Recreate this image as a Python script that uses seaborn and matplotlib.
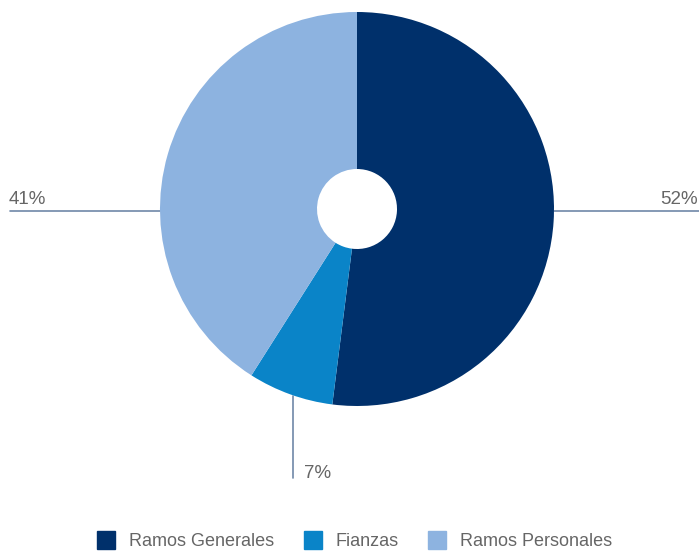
import matplotlib
matplotlib.use("Agg")
import matplotlib.pyplot as plt
from matplotlib.lines import Line2D
import seaborn as sns

# data
categories = ["Ramos Generales", "Fianzas", "Ramos Personales"]
shares = [52, 7, 41]
labels = ["52%", "7%", "41%"]
colors = ["#00306b", "#0a84c8", "#8db3e0"]

sns.set_theme(style="white")
plt.rcParams['font.family'] = ['Liberation Sans', 'DejaVu Sans']

W, H = 699, 551
fig = plt.figure(figsize=(W / 100, H / 100), dpi=100)
ax = fig.add_axes([0, 0, 1, 1])

cx, cy = 357, H - 209
r, hole = 197, 40
pal = sns.color_palette(colors)
ax.pie(shares, colors=pal, startangle=90, counterclock=False,
       center=(cx, cy), radius=r, frame=True,
       wedgeprops=dict(width=r - hole, linewidth=0))
ax.set_xlim(0, W)
ax.set_ylim(0, H)
ax.set_aspect("equal")
ax.axis("off")

line_c = "#6f88a8"
txt_c = "#666666"
fs = 13.5
# leader lines and labels
ax.plot([cx + r, W], [H - 211, H - 211], color=line_c, lw=1.2, zorder=0)
ax.text(W - 1, H - 199, labels[0], ha="right", va="center", color=txt_c, fontsize=fs)
ax.plot([293, 293], [H - 396, H - 478], color=line_c, lw=1.2, zorder=0)
ax.text(304, H - 473, labels[1], ha="left", va="center", color=txt_c, fontsize=fs)
ax.plot([10, cx - r], [H - 211, H - 211], color=line_c, lw=1.2, zorder=0)
ax.text(9, H - 199, labels[2], ha="left", va="center", color=txt_c, fontsize=fs)

handles = [Line2D([0], [0], marker="s", linestyle="", markersize=13,
                  markerfacecolor=c, markeredgecolor=c) for c in pal]
fig.legend(handles, categories, loc="center", bbox_to_anchor=(0.507, 1 - 542 / H),
           ncol=3, frameon=False, fontsize=13, labelcolor=txt_c,
           handletextpad=0.75, columnspacing=1.65, handlelength=1.0)

fig.savefig("out.png", dpi=100)
